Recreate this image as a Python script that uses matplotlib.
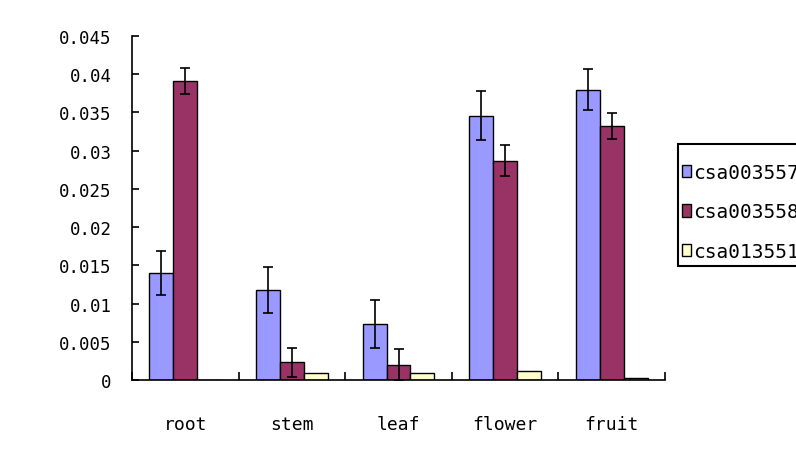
import matplotlib
matplotlib.use("Agg")
import matplotlib.pyplot as plt
from matplotlib.patches import Rectangle
import numpy as np

categories = ["root", "stem", "leaf", "flower", "fruit"]
series_names = ["csa003557", "csa003558", "csa013551"]
vals_557 = [0.0140, 0.0118, 0.0073, 0.0346, 0.0380]
err_557 = [0.0029, 0.0030, 0.0031, 0.0032, 0.0027]
vals_558 = [0.0391, 0.0023, 0.0020, 0.0287, 0.0332]
err_558 = [0.0017, 0.0019, 0.0020, 0.0020, 0.0017]
vals_551 = [0.0000, 0.0009, 0.0009, 0.0012, 0.0002]
yticks = [0, 0.005, 0.01, 0.015, 0.02, 0.025, 0.03, 0.035, 0.04, 0.045]
ytick_labels = ["0", "0.005", "0.01", "0.015", "0.02", "0.025", "0.03", "0.035", "0.04", "0.045"]

colors = ["#9999FF", "#993366", "#FFFFCC"]
font = "DejaVu Sans Mono"

W, H = 796, 464
fig = plt.figure(figsize=(W/100, H/100), dpi=100)
ax = fig.add_axes([132/W, 1-381/H, (665-132)/W, (381-37)/H])

x = np.arange(len(categories)) + 0.5
w = 0.225
series = [(vals_557, err_557), (vals_558, err_558), (vals_551, None)]
handles = []
for i, (v, e) in enumerate(series):
    pos = x + (i - 1) * w
    b = ax.bar(pos, v, width=w, color=colors[i], edgecolor="black", linewidth=1.0,
               label=series_names[i], zorder=2)
    handles.append(b)
    if e is not None:
        ax.errorbar(pos, v, yerr=e, fmt="none", ecolor="black", elinewidth=1.2,
                    capsize=3.5, capthick=1.2, zorder=3)

ax.set_xlim(0, len(categories))
ax.set_ylim(0, 0.045)
ax.set_yticks(yticks)
ax.set_yticklabels(ytick_labels, fontfamily=font, fontsize=12.5)
ax.set_xticks(np.arange(len(categories) + 1))
ax.set_xticklabels([])
ax.tick_params(axis="x", direction="in", length=6, width=1.2)
ax.tick_params(axis="y", direction="in", length=5, width=1.2, pad=14.5)
for i, c in enumerate(categories):
    ax.text(x[i], -0.0057, c, ha="center", va="center", fontfamily=font, fontsize=13)

for s in ["top", "right"]:
    ax.spines[s].set_visible(False)
for s in ["left", "bottom"]:
    ax.spines[s].set_linewidth(1.2)

# legend frame (runs off the right edge, as in the reference)
fig.patches.append(Rectangle((678/W, 1-267/H), 140/W, 122/H, transform=fig.transFigure,
                             facecolor="white", edgecolor="black", linewidth=1.5, zorder=1))
leg = fig.legend(handles=handles, labels=series_names, loc="upper left",
                 bbox_to_anchor=(682/W, 1-164/H), borderaxespad=0, borderpad=0,
                 prop={"family": font, "size": 14}, frameon=False,
                 handlelength=0.46, handleheight=0.62,
                 handletextpad=0.1, labelspacing=1.05)
leg.set_zorder(2)

fig.savefig("out.png", dpi=100)
